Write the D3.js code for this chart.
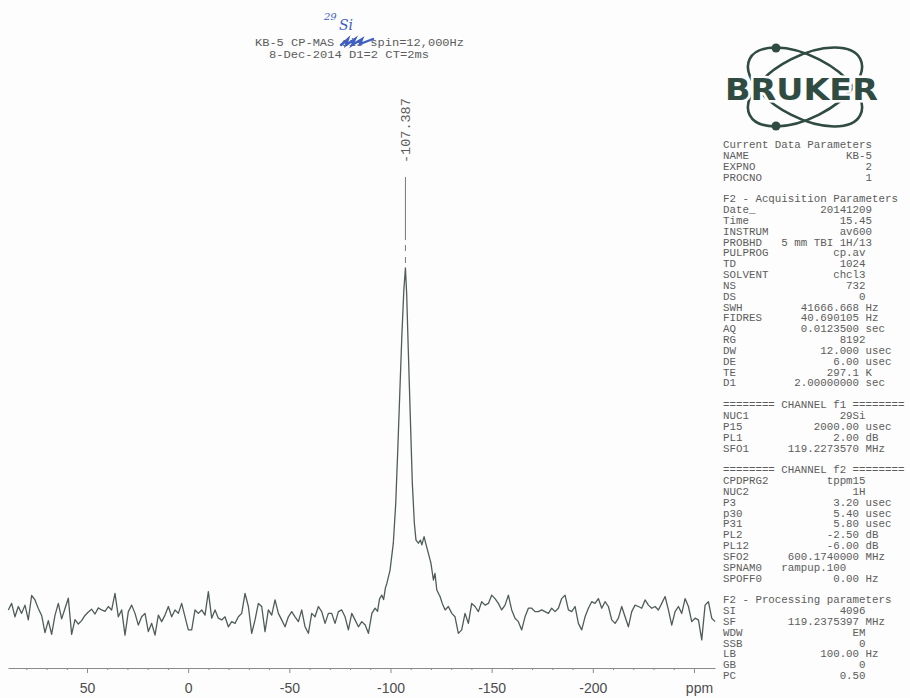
<!DOCTYPE html>
<html lang="en">
<head>
<meta charset="utf-8">
<script src="https://d3js.org/d3.v7.min.js"></script>
<style>
body { margin: 0; background: #fdfdfd; }
.mono { font-family: "Liberation Mono", monospace; fill: #5c5c5c; white-space: pre; }
</style>
</head>
<body>
<script>
// 29Si CP-MAS spectrum, intensity in % of the main peak
const leftStart = 88.9, rightStart = -131.9, noiseStep = 1.648;

const leftNoise = [
  0.6, 2.5, -1.4, 1.6, -0.4, 2.0, -2.3, 4.8, 3.5, 1.0,
  -1.0, -6.0, -2.5, -6.5, -1.0, 2.5, -2.0, 1.0, 4.0, -6.5,
  -2.2, -3.5, -2.5, -1.0, 0.0, 0.8, -0.6, 1.2, 0.6, 0.2,
  1.6, 0.6, 5.4, -1.4, 0.6, -6.7, 0.1, 2.0, -0.4, -3.8,
  -1.4, -0.4, -5.7, -3.3, -6.7, -0.9, -2.8, -0.9, 1.6, -1.4,
  0.6, -0.4, 2.5, -1.4, -5.2, -5.2, 0.6, -0.4, 0.6, -0.9,
  5.9, -1.8, 0.6, -1.8, -2.3, -1.4, -4.3, -2.8, -3.3, -1.4,
  -0.4, 5.4, 1.6, -6.2, -2.3, 2.5, 1.6, -5.7, 0.6, -0.9,
  3.5, -0.4, -2.3, -4.3, -1.4, 0.1, -1.4, -2.8, 0.6, -4.3,
  -6.2, -0.4, -1.4, 1.6, 0.1, -3.3, -0.4, -0.4, -3.3, 0.1,
  0.6, -1.4, -5.2, -0.4, -2.3, -4.3
];

const peakPts = [
  [-85.8, -2.8], [-87.5, -3.8], [-89.1, -6.2], [-90.8, -0.4], [-92.4, 1.1],
  [-93.6, 0.2], [-94.6, 3.8], [-95.7, 4.9], [-96.6, 3.6], [-97.5, 7.0],
  [-98.2, 8.3], [-99.8, 12.2], [-101.4, 20.0], [-102.6, 31.6], [-103.6, 47.1],
  [-104.6, 63.6], [-105.6, 80.0], [-106.6, 93.6], [-107.387, 100], [-108.0, 92.6],
  [-108.8, 76.2], [-109.8, 56.8], [-110.8, 37.4], [-111.8, 25.8], [-112.6, 20.9],
  [-113.8, 20.0], [-114.8, 20.9], [-115.5, 19.5], [-116.6, 21.9], [-117.4, 20.0],
  [-118.7, 17.1], [-120.0, 14.2], [-121.2, 9.3], [-122.0, 11.2], [-122.9, 6.4],
  [-124.5, 4.5], [-125.6, 2.5], [-127.0, 0.6], [-128.6, 1.6], [-130.3, -0.4]
];

const rightNoise = [
  -1.4, -6.2, -5.2, -0.4, -3.3, 2.5, 1.6, 0.1, 3.0, 2.0,
  2.5, 4.9, 3.9, 2.5, 0.6, 2.0, 4.9, 0.6, -1.8, -2.8,
  -5.2, -1.4, 1.1, 1.1, 0.1, 0.1, 0.6, 0.1, -0.4, 1.1,
  0.1, 1.1, 3.9, 4.9, 0.6, 0.1, 1.6, -3.3, -5.2, -1.4,
  1.1, 3.0, 2.5, 3.9, 1.1, 3.0, 1.6, -2.3, -3.3, -1.8,
  1.6, -1.4, -4.3, 0.1, 2.0, 1.6, 1.1, 3.5, 2.0, 1.1,
  1.6, 0.6, 2.5, 4.5, 0.6, -3.8, 0.1, 1.6, -0.4, 3.9,
  1.6, -2.8, -1.8, -2.3, -8.1, 2.0, 3.0, -1.8, -2.8
];

const peakLabel = -107.387;
const majorTicks = [50, 0, -50, -100, -150, -200, -250];

const titleLines = ["KB-5 CP-MAS sis spin=12,000Hz", "8-Dec-2014 D1=2 CT=2ms"];

const currentParams = [["NAME", "KB-5", ""], ["EXPNO", "2", ""], ["PROCNO", "1", ""]];
const acqParams = [
  ["Date_", "20141209", ""], ["Time", "15.45", ""], ["INSTRUM", "av600", ""],
  ["PROBHD", "5 mm TBI 1H/13", ""], ["PULPROG", "cp.av", ""], ["TD", "1024", ""],
  ["SOLVENT", "chcl3", ""], ["NS", "732", ""], ["DS", "0", ""],
  ["SWH", "41666.668", "Hz"], ["FIDRES", "40.690105", "Hz"], ["AQ", "0.0123500", "sec"],
  ["RG", "8192", ""], ["DW", "12.000", "usec"], ["DE", "6.00", "usec"],
  ["TE", "297.1", "K"], ["D1", "2.00000000", "sec"]
];
const channelF1 = [["NUC1", "29Si", ""], ["P15", "2000.00", "usec"], ["PL1", "2.00", "dB"], ["SFO1", "119.2273570", "MHz"]];
const channelF2 = [
  ["CPDPRG2", "tppm15", ""], ["NUC2", "1H", ""], ["P3", "3.20", "usec"],
  ["p30", "5.40", "usec"], ["P31", "5.80", "usec"], ["PL2", "-2.50", "dB"],
  ["PL12", "-6.00", "dB"], ["SFO2", "600.1740000", "MHz"], ["SPNAM0", "rampup.100", ""],
  ["SPOFF0", "0.00", "Hz"]
];
const procParams = [
  ["SI", "4096", ""], ["SF", "119.2375397", "MHz"], ["WDW", "EM", ""], ["SSB", "0", ""],
  ["LB", "100.00", "Hz"], ["GB", "0", ""], ["PC", "0.50", ""]
];

var width = 910, height = 698;

var svg = d3.select("body").append("svg")
    .attr("width", width)
    .attr("height", height)
    .style("background", "#fdfdfd");

var x = d3.scaleLinear().domain([89.05, -260.4]).range([8, 715]);
var y = d3.scaleLinear().domain([0, 100]).range([612, 268]);

var spectrum = leftNoise.map((v, i) => [leftStart - i * noiseStep, v])
    .concat(peakPts)
    .concat(rightNoise.map((v, i) => [rightStart - i * noiseStep, v]));

svg.append("path")
    .datum(spectrum)
    .attr("fill", "none")
    .attr("stroke", "#4f5d56")
    .attr("stroke-width", 1.3)
    .attr("stroke-linejoin", "round")
    .attr("d", d3.line().x(d => x(d[0])).y(d => y(d[1])));

// peak pick label
var px = x(peakLabel);
svg.append("text")
    .attr("class", "mono")
    .attr("transform", "translate(" + px + ",163) rotate(-90)")
    .attr("dy", "0.35em")
    .style("font-size", "13.5px")
    .text(peakLabel.toFixed(3));
svg.append("line")
    .attr("x1", px).attr("x2", px).attr("y1", 177).attr("y2", 240)
    .attr("stroke", "#777").attr("stroke-width", 1);
svg.append("line")
    .attr("x1", px).attr("x2", px).attr("y1", 245).attr("y2", 265)
    .attr("stroke", "#777").attr("stroke-width", 1)
    .attr("stroke-dasharray", "6,6");

// x axis
var axis = svg.append("g").attr("transform", "translate(0,668)");
axis.call(d3.axisBottom(x)
    .tickValues(majorTicks)
    .tickSize(5)
    .tickSizeOuter(0)
    .tickPadding(10)
    .tickFormat(d => d === -250 ? "ppm" : String(d)));
axis.selectAll("text")
    .attr("fill", "#4d4d4d")
    .style("font-family", "'Liberation Sans', Arial, sans-serif")
    .style("font-size", "14px")
    .attr("x", d => d === -250 ? 5 : 0);
axis.select(".domain").attr("stroke", "#8a8a8a");
axis.selectAll(".tick line").attr("stroke", "#8a8a8a");

var minor = svg.append("g").attr("transform", "translate(0,668)");
minor.call(d3.axisBottom(x)
    .tickValues(d3.range(80, -260, -10).filter(d => d % 50 !== 0))
    .tickSize(2)
    .tickFormat(""));
minor.select(".domain").remove();
minor.selectAll(".tick line").attr("stroke", "#8a8a8a");

// title
svg.selectAll(".title")
    .data(titleLines)
    .enter().append("text")
    .attr("class", "mono title")
    .attr("x", (d, i) => i === 0 ? 255 : 269)
    .attr("y", (d, i) => i === 0 ? 46 : 58)
    .attr("textLength", (d, i) => i === 0 ? 209 : 160)
    .attr("lengthAdjust", "spacingAndGlyphs")
    .style("font-size", "11px")
    .text(d => d);

// handwritten note
svg.append("text")
    .attr("x", 324).attr("y", 20)
    .attr("fill", "#3d5fc4")
    .style("font-family", "'DejaVu Serif', serif")
    .style("font-style", "italic")
    .style("font-size", "10px")
    .text("29");
svg.append("text")
    .attr("x", 339).attr("y", 30)
    .attr("fill", "#3d5fc4")
    .style("font-family", "'DejaVu Serif', serif")
    .style("font-style", "italic")
    .style("font-size", "14px")
    .text("Si");
svg.append("path")
    .attr("d", "M341,45 L348,39 L346,45 L355,39 L352,45 L362,39 L360,44 L373,39")
    .attr("fill", "none")
    .attr("stroke", "#3d5fc4")
    .attr("stroke-width", 2.4)
    .attr("stroke-linecap", "round");

// logo
var logoColor = "#2f4b42";
var logo = svg.append("g");
[27, -27].forEach(function(a) {
    logo.append("ellipse")
        .attr("cx", 805).attr("cy", 87)
        .attr("rx", 62).attr("ry", 31)
        .attr("transform", "rotate(" + a + ",805,87)")
        .attr("fill", "none")
        .attr("stroke", logoColor)
        .attr("stroke-width", 2.6);
});
logo.append("circle").attr("cx", 776).attr("cy", 48).attr("r", 4.5).attr("fill", logoColor);
logo.append("circle").attr("cx", 776).attr("cy", 126).attr("r", 4.5).attr("fill", logoColor);
logo.append("text")
    .attr("x", 725).attr("y", 100)
    .attr("textLength", 153)
    .attr("lengthAdjust", "spacingAndGlyphs")
    .attr("fill", logoColor)
    .attr("stroke", "#fdfdfd")
    .attr("stroke-width", 5)
    .style("paint-order", "stroke")
    .style("font-family", "'DejaVu Sans', sans-serif")
    .style("font-weight", "bold")
    .style("font-size", "30px")
    .text("BRUKER");

// parameter listing
var wide = ["NAME", "EXPNO", "PROCNO", "Date_", "Time", "INSTRUM", "PROBHD"];
var endOverride = { SPNAM0: 19 };
function fmt(r) {
    var end = r[2] ? 21 : (wide.indexOf(r[0]) >= 0 ? 23 : 22);
    if (endOverride[r[0]]) end = endOverride[r[0]];
    var gap = Math.max(1, end - r[0].length - r[1].length);
    return r[0] + " ".repeat(gap) + r[1] + (r[2] ? " " + r[2] : "");
}
var lines = [];
[["Current Data Parameters", currentParams],
 ["F2 - Acquisition Parameters", acqParams],
 ["======== CHANNEL f1 ========", channelF1],
 ["======== CHANNEL f2 ========", channelF2],
 ["F2 - Processing parameters", procParams]].forEach(function(s, i) {
    if (i > 0) lines.push("");
    lines.push(s[0]);
    s[1].forEach(r => lines.push(fmt(r)));
});

svg.append("g").selectAll("text")
    .data(lines)
    .enter().append("text")
    .attr("class", "mono")
    .attr("x", 723)
    .attr("y", (d, i) => 148 + i * 10.84)
    .style("font-size", "10.8px")
    .text(d => d);
</script>
</body>
</html>
